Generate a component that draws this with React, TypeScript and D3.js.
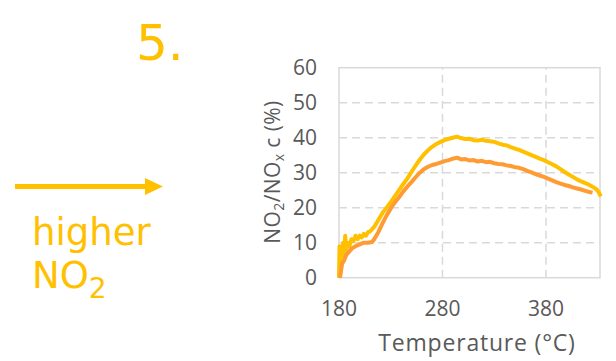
import React from 'react';
import * as d3 from 'd3';

// x tick labels and y tick labels
const xTicks = [180, 280, 380];
const yTicks = [0, 10, 20, 30, 40, 50, 60];

// higher NO2 series (yellow)
const yellowT = [180, 180.5, 181, 182, 183, 184, 185, 186, 187, 188, 190, 192, 194, 196, 198, 200, 202, 204, 206, 208, 210, 214, 218, 222, 226, 230, 234, 238, 242, 246, 250, 254, 258, 262, 266, 270, 274, 278, 282, 286, 290, 294, 298, 302, 306, 310, 314, 318, 322, 326, 330, 334, 338, 342, 346, 350, 354, 358, 362, 366, 370, 374, 378, 382, 386, 390, 394, 398, 402, 406, 410, 414, 418, 422, 426, 429, 431, 433];
const yellowV = [0, 9, 4, 8, 6, 10, 7, 12, 8, 10, 9, 11, 10.5, 12, 11, 12, 11.5, 12.5, 12, 13, 13.2, 14.5, 16.5, 18.5, 20, 21.6, 23.3, 25, 26.7, 28.3, 30.2, 32, 33.7, 35.2, 36.4, 37.4, 38.2, 38.8, 39.3, 39.7, 40, 40.3, 39.9, 39.6, 39.7, 39.3, 39.2, 39.4, 39.1, 39, 38.8, 38.4, 38, 37.8, 37.3, 36.9, 36.5, 36, 35.5, 35, 34.5, 34, 33.6, 33, 32.4, 31.8, 31, 30.2, 29.5, 28.8, 28.1, 27.5, 27, 26.5, 25.8, 25.2, 24.4, 23.2];

// lower NO2 series (orange)
const orangeT = [181, 182, 183, 185, 187, 190, 193, 196, 200, 204, 208, 212, 214, 218, 222, 226, 230, 234, 238, 242, 246, 250, 254, 258, 262, 266, 270, 274, 278, 282, 286, 290, 294, 298, 302, 306, 310, 314, 318, 322, 326, 330, 334, 338, 342, 346, 350, 354, 358, 362, 366, 370, 374, 378, 382, 386, 390, 394, 398, 402, 406, 410, 414, 418, 422, 425];
const orangeV = [0, 2, 4, 5, 6.5, 7.5, 8.5, 9, 9.5, 10, 10, 10.2, 11, 13, 15.5, 17.8, 19.8, 21.5, 23, 24.6, 26, 27.3, 28.7, 30, 31, 31.7, 32.2, 32.5, 32.9, 33.3, 33.6, 34, 34.3, 33.8, 33.9, 33.5, 33.6, 33.2, 33.4, 33, 33.1, 32.7, 32.5, 32.4, 32.1, 31.9, 31.6, 31.4, 31, 30.5, 30.1, 29.6, 29.2, 28.8, 28.3, 27.8, 27.3, 26.9, 26.5, 26.2, 25.8, 25.5, 25.2, 24.8, 24.5, 24.3];

const W = 616;
const H = 361;
const grey = '#595959';
const gridColor = '#D9D9D9';
const yellow = '#FFC000';
const orange = '#FF9B33';
const axisFont = '"Open Sans", sans-serif';

export default function App() {
  const x = d3.scaleLinear().domain([180, 432.2]).range([339, 600]);
  const y = d3.scaleLinear().domain([0, 60]).range([277.7, 67.7]);

  const line = d3.line<[number, number]>()
    .x(d => x(d[0]))
    .y(d => y(d[1]));

  const yellowPts = yellowT.map((t, i) => [t, yellowV[i]] as [number, number]);
  const orangePts = orangeT.map((t, i) => [t, orangeV[i]] as [number, number]);

  const [x0, x1] = x.range();

  return (
    <svg width={W} height={H} style={{ position: 'absolute', left: 0, top: 0, background: '#fff' }}>
      {/* left annotation */}
      <text x={136} y={60} fontFamily='"DejaVu Sans", sans-serif' fontSize={50} fill={yellow}>5.</text>
      <line x1={15} x2={147} y1={186.5} y2={186.5} stroke={yellow} strokeWidth={5} />
      <polygon points="145,178 163,186.5 145,195" fill={yellow} />
      <text x={32} y={245} fontFamily='"DejaVu Sans", sans-serif' fontSize={37} fill={yellow}>higher</text>
      <text x={32} y={288} fontFamily='"DejaVu Sans", sans-serif' fontSize={37} fill={yellow}>
        NO<tspan fontSize={28} dy={10}>2</tspan>
      </text>

      {/* gridlines */}
      {yTicks.filter(v => v > 0 && v < 60).map(v => (
        <line key={'gy' + v} x1={x0} x2={x1} y1={y(v)} y2={y(v)} stroke={gridColor} strokeWidth={1.5} strokeDasharray="8,5" />
      ))}
      {xTicks.filter(v => v > 180).map(v => (
        <line key={'gx' + v} x1={x(v)} x2={x(v)} y1={y(0)} y2={y(60)} stroke={gridColor} strokeWidth={1.5} strokeDasharray="8,5" />
      ))}
      <rect x={x0} y={y(60)} width={x1 - x0} height={y(0) - y(60)} fill="none" stroke={gridColor} strokeWidth={1.5} />

      {/* series */}
      <path d={line(yellowPts) || ''} fill="none" stroke={yellow} strokeWidth={4} strokeLinejoin="round" />
      <path d={line(orangePts) || ''} fill="none" stroke={orange} strokeWidth={4} strokeLinejoin="round" />

      {/* tick labels */}
      {yTicks.map(v => (
        <text key={'ty' + v} x={317} y={y(v)} dy="0.36em" textAnchor="end" fontFamily={axisFont} fontSize={21} fill={grey}>{v}</text>
      ))}
      {xTicks.map(v => (
        <text key={'tx' + v} x={x(v)} y={308} dy="0.36em" textAnchor="middle" fontFamily={axisFont} fontSize={21} fill={grey}>{v}</text>
      ))}

      {/* axis titles */}
      <text x={477} y={343} dy="0.36em" textAnchor="middle" fontFamily={axisFont} fontSize={23} letterSpacing={0.8} fill={grey}>Temperature (°C)</text>
      <text transform="translate(272,172) rotate(-90)" dy="0.36em" textAnchor="middle" fontFamily={axisFont} fontSize={21} letterSpacing={0.4} fill={grey}>
        NO<tspan fontSize={14} dy={4}>2</tspan><tspan dy={-4}>/NO</tspan><tspan fontSize={14} dy={4}>x</tspan><tspan dy={-4}> c (%)</tspan>
      </text>
    </svg>
  );
}
